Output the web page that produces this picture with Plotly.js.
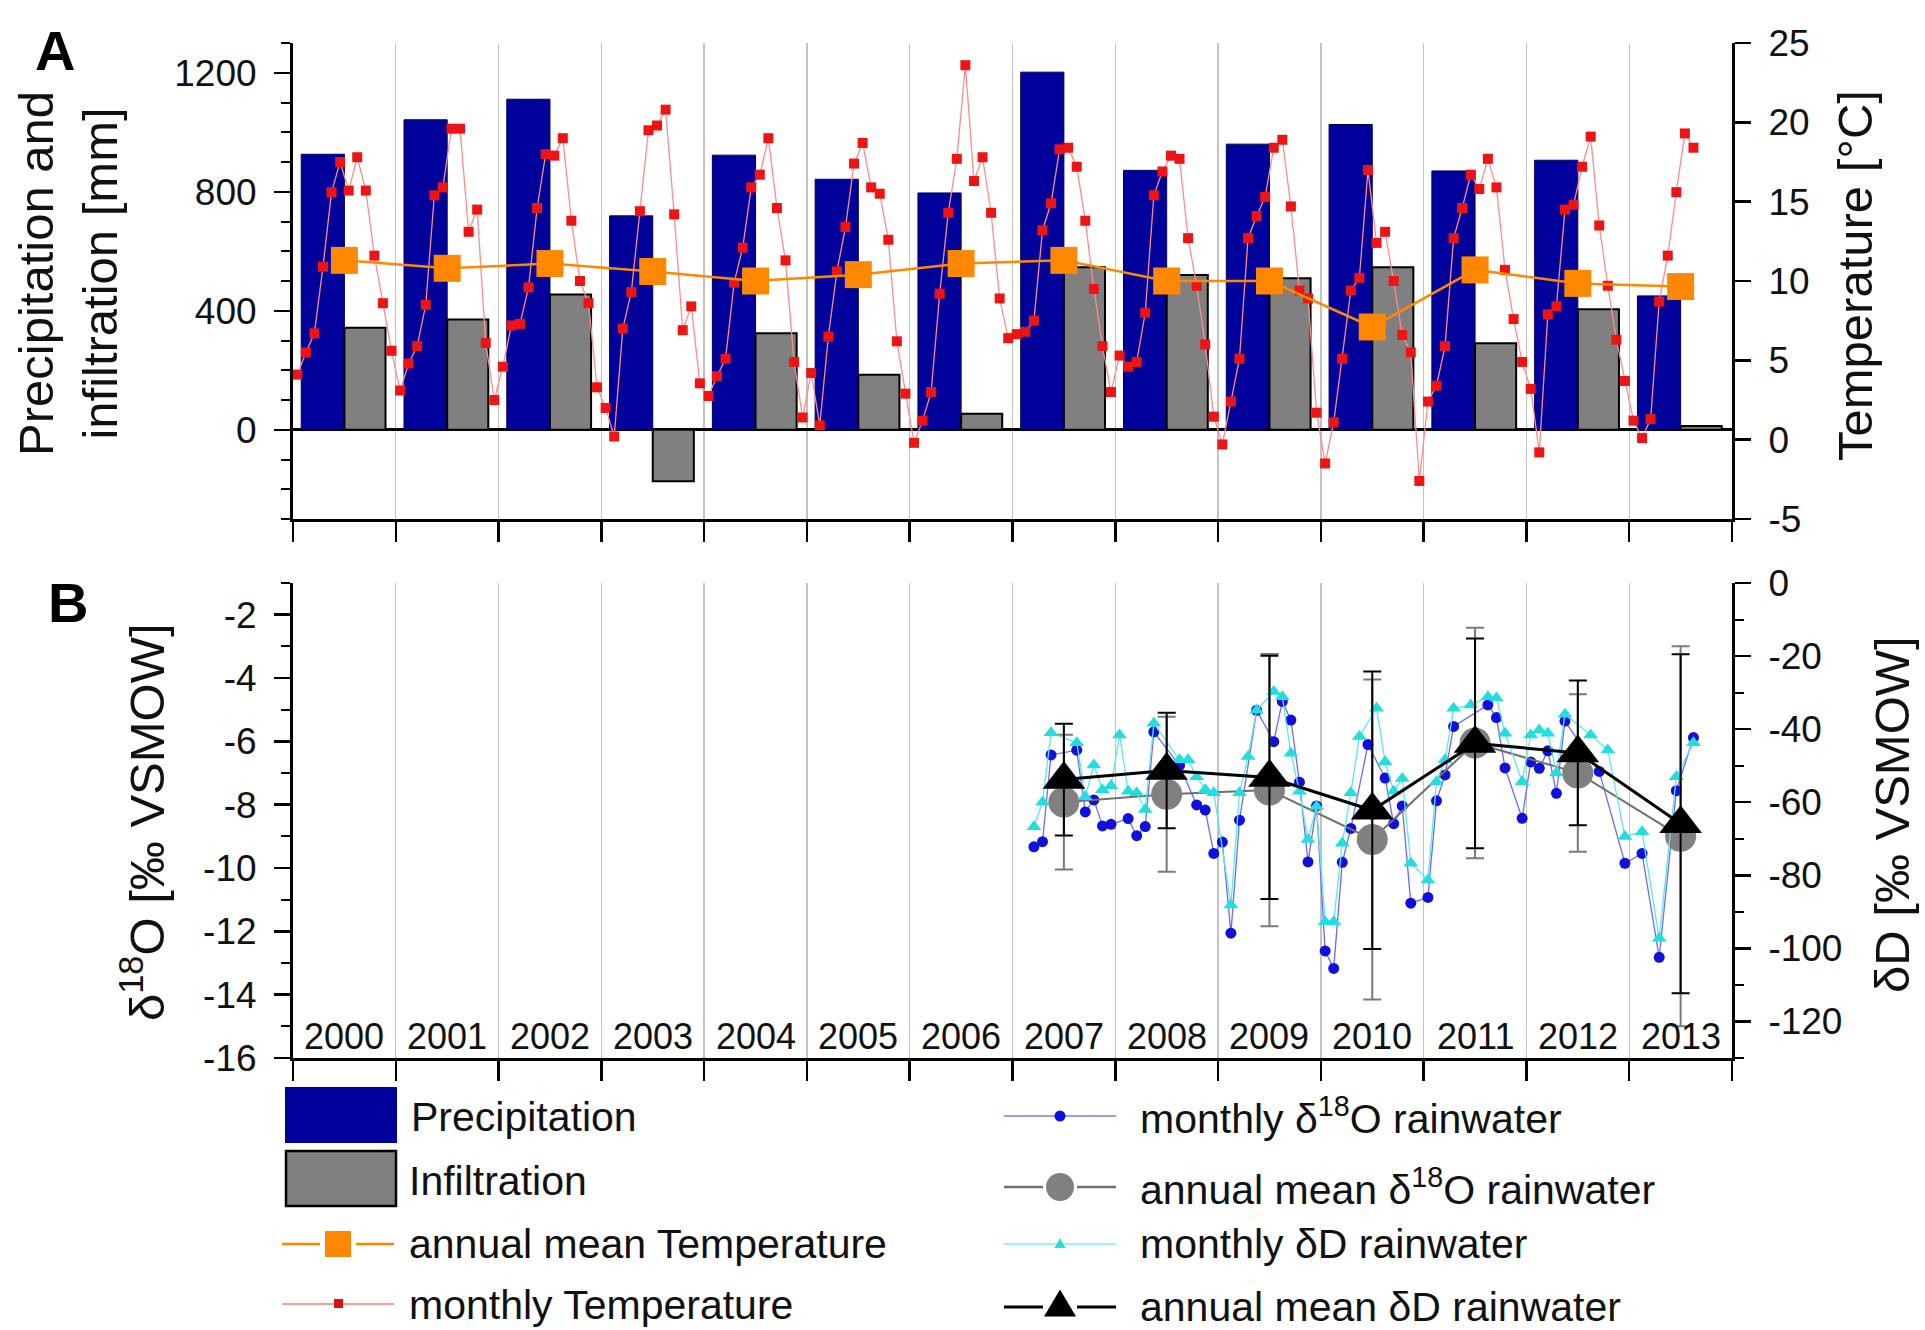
<!DOCTYPE html>
<html>
<head>
<meta charset="utf-8">
<script src="https://cdn.plot.ly/plotly-3.0.1.min.js"></script>
<style>
  html, body { margin: 0; padding: 0; background: #ffffff; }
  #chart { width: 1925px; height: 1330px; }
</style>
</head>
<body>
<div id="chart"></div>
<script>
// ---------------- data ----------------
const years = [2000, 2001, 2002, 2003, 2004, 2005, 2006, 2007, 2008, 2009, 2010, 2011, 2012, 2013];

// annual sums [mm]
const precipitation = [926, 1042, 1111, 719, 923, 842, 796, 1202, 872, 960, 1026, 870, 906, 450];
const infiltration  = [343, 371, 455, -173, 324, 185, 54, 546, 520, 509, 546, 291, 405, 13];

// annual mean air temperature [°C]
const annualTemperature = [11.3, 10.8, 11.1, 10.6, 10.0, 10.4, 11.1, 11.3, 10.0, 10.0, 7.1, 10.7, 9.85, 9.65];

// monthly mean air temperature [°C], one row per year (Jan..Dec)
const monthlyTemperature = [
  [4.1, 5.5, 6.7, 10.9, 15.6, 17.5, 15.7, 17.8, 15.7, 11.6, 8.6, 5.6],
  [3.1, 4.8, 5.9, 8.5, 15.4, 15.9, 19.6, 19.6, 13.1, 14.5, 6.1, 2.5],
  [4.6, 7.2, 7.3, 9.6, 14.6, 18.0, 17.9, 19.0, 13.8, 10.0, 8.6, 3.3],
  [2.0, 0.2, 7.0, 9.3, 14.4, 19.5, 19.8, 20.8, 14.2, 6.9, 8.4, 3.55],
  [2.75, 4.0, 5.1, 9.9, 12.1, 15.9, 16.7, 19.0, 14.6, 11.3, 4.9, 1.4],
  [4.2, 0.9, 6.5, 10.6, 13.4, 17.4, 18.7, 15.9, 15.5, 12.6, 6.2, 2.9],
  [-0.2, 1.2, 3.0, 9.2, 14.3, 17.7, 23.6, 16.3, 17.8, 14.3, 8.9, 6.4],
  [6.65, 6.8, 7.5, 13.2, 14.9, 18.3, 18.4, 17.2, 13.8, 9.5, 5.9, 3.0],
  [5.3, 4.6, 4.9, 8.0, 15.4, 16.9, 17.9, 17.7, 12.7, 9.7, 6.0, 1.45],
  [-0.3, 2.4, 5.1, 12.7, 14.1, 15.3, 18.4, 18.9, 14.7, 9.4, 8.9, 1.7],
  [-1.5, 1.1, 5.1, 9.4, 10.2, 17.0, 12.4, 13.1, 10.0, 6.6, 5.5, -2.6],
  [2.4, 3.4, 5.9, 12.7, 14.6, 16.7, 15.8, 17.7, 15.9, 10.7, 7.6, 4.9],
  [3.2, -0.8, 7.9, 8.4, 14.5, 14.8, 17.2, 19.1, 13.5, 9.7, 6.3, 3.7],
  [1.2, 0.1, 1.3, 8.7, 11.6, 15.6, 19.3, 18.4]
];

// annual means of the rainwater isotopes with standard deviations
const isoYears     = [2007, 2008, 2009, 2010, 2011, 2012, 2013];
const annualO18    = [-7.92, -7.67, -7.54, -9.1, -6.05, -7.0, -9.0];
const annualO18Err = [2.13, 2.45, 4.3, 5.05, 3.64, 2.49, 6.0];
const annualD      = [-53.8, -51.3, -53.2, -62.2, -43.9, -46.5, -65.9];
const annualDErr   = [15.3, 15.8, 33.3, 38.0, 28.7, 19.8, 46.4];

// monthly rainwater δ18O [‰ VSMOW]
const o18Months = ["2007-03","2007-04","2007-05","2007-08","2007-09","2007-10","2007-11","2007-12",
  "2008-02","2008-03","2008-04","2008-05","2008-08","2008-10","2008-11","2008-12",
  "2009-01","2009-02","2009-03","2009-05","2009-07","2009-08","2009-09","2009-10","2009-11","2009-12",
  "2010-01","2010-02","2010-03","2010-04","2010-06","2010-08","2010-09","2010-10","2010-11",
  "2011-01","2011-02","2011-03","2011-04","2011-08","2011-09","2011-10","2011-12",
  "2012-01","2012-02","2012-03","2012-04","2012-05","2012-09","2012-12",
  "2013-02","2013-04","2013-06","2013-08"];
const o18Values = [-9.33, -9.17, -6.43, -6.28, -8.23, -7.85, -8.67, -8.62,
  -8.44, -8.98, -8.69, -5.70, -6.76, -8.01, -8.17, -9.54,
  -9.18, -12.06, -8.49, -5.02, -6.01, -4.74, -5.33, -7.29, -9.81, -8.04,
  -12.62, -13.17, -9.82, -8.75, -6.10, -7.16, -8.60, -8.04, -11.11,
  -10.93, -7.88, -7.06, -5.53, -4.85, -5.25, -6.84, -8.43,
  -6.65, -6.85, -6.30, -7.64, -5.36, -6.95, -9.85,
  -9.54, -12.82, -7.56, -5.88];

// monthly rainwater δD [‰ VSMOW]
const dMonths = ["2007-03","2007-04","2007-05","2007-08","2007-09","2007-10","2007-11","2007-12",
  "2008-01","2008-02","2008-03","2008-04","2008-05","2008-08","2008-09","2008-10","2008-11","2008-12",
  "2009-02","2009-03","2009-04","2009-05","2009-07","2009-08","2009-09","2009-10","2009-11","2009-12",
  "2010-01","2010-02","2010-03","2010-04","2010-05","2010-07","2010-08","2010-09","2010-10","2010-11",
  "2011-01","2011-02","2011-03","2011-04","2011-06","2011-08","2011-09","2011-10","2011-12",
  "2012-01","2012-02","2012-03","2012-04","2012-05","2012-08","2012-10","2012-12",
  "2013-02","2013-04","2013-06","2013-08"];
const dValues = [-66.7, -60.0, -41.0, -43.7, -58.5, -49.8, -56.6, -55.5,
  -41.6, -57.0, -57.4, -62.0, -38.4, -48.4, -48.4, -53.0, -56.6, -57.4,
  -88.1, -57.4, -47.5, -34.8, -29.7, -31.1, -46.6, -57.0, -70.2, -61.2,
  -92.7, -92.7, -71.2, -57.4, -42.0, -34.3, -48.9, -57.0, -53.5, -76.7,
  -81.3, -54.4, -48.4, -34.3, -33.4, -31.1, -31.5, -41.1, -54.4,
  -41.6, -40.2, -41.1, -52.0, -35.9, -41.6, -45.7, -69.4,
  -68.1, -97.2, -53.0, -43.7];

// tick labels
const precipTicks = [0, 400, 800, 1200];
const tempTicks   = [-5, 0, 5, 10, 15, 20, 25];
const o18Ticks    = [-16, -14, -12, -10, -8, -6, -4, -2];
const dTicks      = [0, -20, -40, -60, -80, -100, -120];

// ---------------- helpers ----------------
const W = 1925, H = 1330;
const FONT = "Liberation Sans, Arial, Helvetica, sans-serif";
const px = v => v / W;          // pixel -> paper (x)
const py = v => 1 - v / H;      // pixel -> paper (y)
const monthPos = s => { const [y, m] = s.split("-").map(Number); return y + (m - 0.5) / 12; };

const tempX = [], tempY = [];
monthlyTemperature.forEach((row, i) => row.forEach((t, m) => {
  tempX.push(years[i] + (m + 0.5) / 12);
  tempY.push(t);
}));
const midYears = years.map(y => y + 0.5);
const midIso = isoYears.map(y => y + 0.5);

// ---------------- traces ----------------
const traces = [
  { type: "bar", x: years, y: precipitation, offset: 0.08, width: 0.42,
    marker: { color: "#00009a", line: { color: "#00005e", width: 1 } },
    xaxis: "x", yaxis: "y", name: "Precipitation" },
  { type: "bar", x: years, y: infiltration, offset: 0.5, width: 0.4,
    marker: { color: "#808080", line: { color: "#000000", width: 2 } },
    xaxis: "x", yaxis: "y", name: "Infiltration" },
  { type: "scatter", mode: "lines+markers", x: tempX, y: tempY,
    line: { color: "#ff8c8c", width: 1.3 },
    marker: { symbol: "square", size: 10, color: "#ee1414" },
    xaxis: "x", yaxis: "y2", name: "monthly Temperature" },
  { type: "scatter", mode: "lines+markers", x: midYears, y: annualTemperature,
    line: { color: "#ff8800", width: 2.5 },
    marker: { symbol: "square", size: 27, color: "#ff8800" },
    xaxis: "x", yaxis: "y2", name: "annual mean Temperature" },

  { type: "scatter", mode: "lines+markers", x: o18Months.map(monthPos), y: o18Values,
    line: { color: "#6a6aff", width: 1.3 },
    marker: { symbol: "circle", size: 11, color: "#1010dc" },
    xaxis: "x2", yaxis: "y3", name: "monthly δ18O rainwater" },
  { type: "scatter", mode: "lines+markers", x: midIso, y: annualO18,
    line: { color: "#707070", width: 2 },
    marker: { symbol: "circle", size: 31, color: "#808080" },
    error_y: { type: "data", array: annualO18Err, visible: true, color: "#7a7a7a", thickness: 2, width: 9 },
    xaxis: "x2", yaxis: "y3", name: "annual mean δ18O rainwater" },
  { type: "scatter", mode: "lines+markers", x: dMonths.map(monthPos), y: dValues,
    line: { color: "#5fe8e8", width: 1.3 },
    marker: { symbol: "triangle-up", size: 13, color: "#22dede" },
    xaxis: "x2", yaxis: "y4", name: "monthly δD rainwater" },
  { type: "scatter", mode: "lines+markers", x: midIso, y: annualD,
    line: { color: "#000000", width: 3 },
    marker: { symbol: "triangle-up", size: 37, color: "#000000" },
    error_y: { type: "data", array: annualDErr, visible: true, color: "#000000", thickness: 2, width: 9 },
    xaxis: "x2", yaxis: "y4", name: "annual mean δD rainwater" }
];

// ---------------- axes ----------------
const tickFont = { family: FONT, size: 37, color: "#111111" };
const xDomain = [px(293), px(1732)];
const domA = [py(519), py(43)];
const domB = [py(1058), py(583)];

function xAxis(anchor) {
  return {
    domain: xDomain, anchor: anchor, range: [2000, 2014],
    tickmode: "linear", tick0: 2000, dtick: 1,
    ticks: "outside", ticklen: 20, tickwidth: 2.5, tickcolor: "#000",
    showticklabels: false,
    showgrid: true, gridcolor: "#c2c2c2", gridwidth: 1.3,
    showline: true, linecolor: "#000", linewidth: 3, zeroline: false
  };
}
function yAxis(opts, ticks, minorStep, side) {
  return Object.assign({
    tickmode: "array", tickvals: ticks, ticktext: ticks.map(String),
    ticks: "outside", ticklen: 16, tickwidth: 2.5, tickcolor: "#000",
    tickfont: tickFont, ticklabelstandoff: 10,
    minor: minorStep ? { tickmode: "linear", tick0: 0, dtick: minorStep, ticks: "outside",
                         ticklen: 9, tickwidth: 2, tickcolor: "#000" } : undefined,
    showline: true, linecolor: "#000", linewidth: 3,
    showgrid: false, zeroline: false, side: side
  }, opts);
}

const layout = {
  width: W, height: H,
  margin: { l: 0, r: 0, t: 0, b: 0 },
  paper_bgcolor: "#ffffff", plot_bgcolor: "rgba(0,0,0,0)",
  showlegend: false, barmode: "overlay", hovermode: false,
  font: { family: FONT, color: "#111111" },
  xaxis: xAxis("y"),
  xaxis2: xAxis("y3"),
  yaxis: yAxis({ domain: domA, anchor: "x", range: [-300, 1300],
                 zeroline: true, zerolinecolor: "#000", zerolinewidth: 3 }, precipTicks, 100, "left"),
  yaxis2: yAxis({ overlaying: "y", anchor: "x", range: [-5, 25] }, tempTicks, null, "right"),
  yaxis3: yAxis({ domain: domB, anchor: "x2", range: [-16, -1] }, o18Ticks, 1, "left"),
  yaxis4: yAxis({ overlaying: "y3", anchor: "x2", range: [-130, 0] }, dTicks, 10, "right"),
  annotations: [],
  shapes: []
};

// ---------------- panel letters and axis titles ----------------
const ann = layout.annotations;
const titleFont = { family: FONT, size: 49, color: "#111111" };
ann.push({ xref: "paper", yref: "paper", x: px(55), y: py(50), text: "<b>A</b>", showarrow: false,
           font: { family: FONT, size: 56, color: "#000" }, xanchor: "center", yanchor: "middle" });
ann.push({ xref: "paper", yref: "paper", x: px(68), y: py(602), text: "<b>B</b>", showarrow: false,
           font: { family: FONT, size: 56, color: "#000" }, xanchor: "center", yanchor: "middle" });
ann.push({ xref: "paper", yref: "paper", x: px(68), y: py(274), text: "Precipitation and<br>infiltration [mm]",
           textangle: -90, showarrow: false, font: titleFont, xanchor: "center", yanchor: "middle" });
ann.push({ xref: "paper", yref: "paper", x: px(1855), y: py(276), text: "Temperature [°C]",
           textangle: -90, showarrow: false, font: titleFont, xanchor: "center", yanchor: "middle" });
ann.push({ xref: "paper", yref: "paper", x: px(143), y: py(822), text: "δ<sup>18</sup>O [‰ VSMOW]",
           textangle: -90, showarrow: false, font: titleFont, xanchor: "center", yanchor: "middle" });
ann.push({ xref: "paper", yref: "paper", x: px(1892), y: py(815), text: "δD [‰ VSMOW]",
           textangle: -90, showarrow: false, font: titleFont, xanchor: "center", yanchor: "middle" });

// year labels inside panel B
years.forEach(y => ann.push({ xref: "x2", yref: "paper", x: y + 0.5, y: py(1036), text: String(y),
  showarrow: false, font: { family: FONT, size: 36, color: "#111111" }, xanchor: "center", yanchor: "middle" }));

// ---------------- legend ----------------
const shp = layout.shapes;
const legFont = { family: FONT, size: 41, color: "#111111" };
function rect(x0, y0, x1, y1, fill, line) {
  shp.push({ type: "rect", xref: "paper", yref: "paper", x0: px(x0), x1: px(x1), y0: py(y1), y1: py(y0),
             fillcolor: fill, line: line || { width: 0 } });
}
function seg(x0, x1, y, color, width) {
  shp.push({ type: "line", xref: "paper", yref: "paper", x0: px(x0), x1: px(x1), y0: py(y), y1: py(y),
             line: { color: color, width: width } });
}
function circ(cx, cy, r, color) {
  shp.push({ type: "circle", xref: "paper", yref: "paper", x0: px(cx - r), x1: px(cx + r), y0: py(cy + r), y1: py(cy - r),
             fillcolor: color, line: { width: 0 } });
}
function tri(cx, cy, w, h, color) {
  const p = `M${px(cx - w / 2)},${py(cy + h / 2)} L${px(cx + w / 2)},${py(cy + h / 2)} L${px(cx)},${py(cy - h / 2)} Z`;
  shp.push({ type: "path", xref: "paper", yref: "paper", path: p, fillcolor: color, line: { width: 0 } });
}
function label(x, y, text) {
  ann.push({ xref: "paper", yref: "paper", x: px(x), y: py(y), text: text, showarrow: false,
             font: legFont, xanchor: "left", yanchor: "middle" });
}

// left column
rect(285, 1087, 397, 1143, "#00009a");
label(409, 1117, "Precipitation");
rect(286, 1151, 396, 1206, "#808080", { color: "#000", width: 2.5 });
label(407, 1181, "Infiltration");
seg(282, 320, 1244, "#ff8800", 2.5); seg(356, 394, 1244, "#ff8800", 2.5);
rect(325, 1231, 351, 1257, "#ff8800");
label(407, 1244, "annual mean Temperature");
seg(282, 394, 1304, "#ff9a9a", 2);
rect(334, 1299, 343, 1308, "#dd1111");
label(407, 1305, "monthly Temperature");

// right column
seg(1004, 1116, 1116, "#7a7aff", 1.5);
circ(1060, 1116, 5.5, "#1010dc");
label(1138, 1116, "monthly δ<sup>18</sup>O rainwater");
seg(1004, 1043, 1187, "#707070", 2.5); seg(1077, 1116, 1187, "#707070", 2.5);
circ(1060, 1187, 14, "#808080");
label(1138, 1187, "annual mean δ<sup>18</sup>O rainwater");
seg(1004, 1116, 1244, "#7fefef", 1.5);
tri(1060, 1243, 11, 10, "#22dede");
label(1138, 1244, "monthly δD rainwater");
seg(1004, 1043, 1307, "#000000", 3); seg(1077, 1116, 1307, "#000000", 3);
tri(1060, 1303, 32, 27, "#000000");
label(1138, 1307, "annual mean δD rainwater");

Plotly.newPlot("chart", traces, layout, { staticPlot: true, displayModeBar: false });
</script>
</body>
</html>
